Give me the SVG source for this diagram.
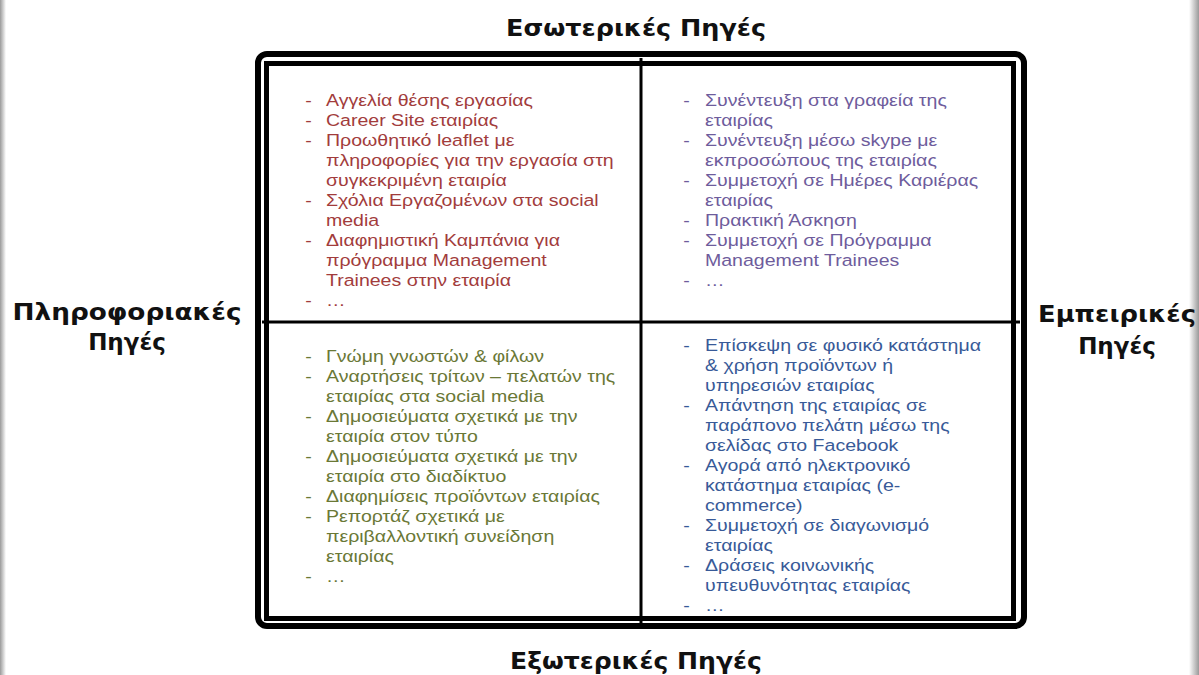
<svg xmlns="http://www.w3.org/2000/svg" width="1199" height="675" viewBox="0 0 1199 675">
  <style>
    .axis { font-family: "DejaVu Sans", "Open Sans", sans-serif; font-weight: 700; font-size: 23px; fill: #111; text-anchor: middle; }
    .item { font-family: "Liberation Sans", Arial, sans-serif; font-size: 17px; }
    .q1 { fill: #a23c3c; }
    .q2 { fill: #6e5c9c; }
    .q3 { fill: #6a7836; }
    .q4 { fill: #385a98; }
    .frame { fill: none; stroke: #000; }
  </style>
  <defs>
    <linearGradient id="edgeL" x1="0" x2="1" y1="0" y2="0">
      <stop offset="0" stop-color="#9a9a9a"/>
      <stop offset="1" stop-color="#ffffff"/>
    </linearGradient>
    <linearGradient id="edgeR" x1="0" x2="1" y1="0" y2="0">
      <stop offset="0" stop-color="#ffffff"/>
      <stop offset="1" stop-color="#9a9a9a"/>
    </linearGradient>
  </defs>

  <rect x="0" y="0" width="1199" height="675" fill="#fff"/>
  <rect x="0" y="0" width="6" height="675" fill="url(#edgeL)"/>
  <rect x="1189" y="0" width="10" height="675" fill="url(#edgeR)"/>

  <!-- frame and quadrant dividers -->
  <g id="connectors">
    <rect class="frame" x="258" y="54" width="766" height="572" rx="9" stroke-width="6"/>
    <rect class="frame" x="266.5" y="63.5" width="747" height="555" stroke-width="5"/>
    <line x1="641" y1="58" x2="641" y2="624" stroke="#000" stroke-width="3"/>
    <line x1="262" y1="322" x2="1020" y2="322" stroke="#000" stroke-width="3"/>
  </g>

  <!-- axis labels -->
  <g id="axis-top"><text class="axis" x="636" y="36" textLength="260" lengthAdjust="spacingAndGlyphs">Εσωτερικές Πηγές</text></g>
  <g id="axis-bottom"><text class="axis" x="636" y="669" textLength="252" lengthAdjust="spacingAndGlyphs">Εξωτερικές Πηγές</text></g>
  <g id="axis-left">
    <text class="axis" x="127" y="320" textLength="229" lengthAdjust="spacingAndGlyphs">Πληροφοριακές</text>
    <text class="axis" x="127" y="350">Πηγές</text>
  </g>
  <g id="axis-right">
    <text class="axis" x="1117" y="322" textLength="158" lengthAdjust="spacingAndGlyphs">Εμπειρικές</text>
    <text class="axis" x="1117" y="354">Πηγές</text>
  </g>

  <!-- top-left quadrant -->
  <g id="q-info-internal" class="item q1" transform="matrix(1.15 0 0 1 -48.9 0)">
    <text x="308" y="106">-</text><text x="326" y="106">Αγγελία θέσης εργασίας</text>
    <text x="308" y="126">-</text><text x="326" y="126">Career Site εταιρίας</text>
    <text x="308" y="146">-</text><text x="326" y="146">Προωθητικό leaflet με</text>
    <text x="326" y="166">πληροφορίες για την εργασία στη</text>
    <text x="326" y="186">συγκεκριμένη εταιρία</text>
    <text x="308" y="206">-</text><text x="326" y="206">Σχόλια Εργαζομένων στα social</text>
    <text x="326" y="226">media</text>
    <text x="308" y="246">-</text><text x="326" y="246">Διαφημιστική Καμπάνια για</text>
    <text x="326" y="266">πρόγραμμα Management</text>
    <text x="326" y="286">Trainees στην εταιρία</text>
    <text x="308" y="306">-</text><text x="326" y="306">…</text>
  </g>

  <!-- top-right quadrant -->
  <g id="q-exp-internal" class="item q2" transform="matrix(1.15 0 0 1 -105.75 0)">
    <text x="686" y="106">-</text><text x="705" y="106">Συνέντευξη στα γραφεία της</text>
    <text x="705" y="126">εταιρίας</text>
    <text x="686" y="146">-</text><text x="705" y="146">Συνέντευξη μέσω skype με</text>
    <text x="705" y="166">εκπροσώπους της εταιρίας</text>
    <text x="686" y="186">-</text><text x="705" y="186">Συμμετοχή σε Ημέρες Καριέρας</text>
    <text x="705" y="206">εταιρίας</text>
    <text x="686" y="226">-</text><text x="705" y="226">Πρακτική Άσκηση</text>
    <text x="686" y="246">-</text><text x="705" y="246">Συμμετοχή σε Πρόγραμμα</text>
    <text x="705" y="266">Management Trainees</text>
    <text x="686" y="286">-</text><text x="705" y="286">…</text>
  </g>

  <!-- bottom-left quadrant -->
  <g id="q-info-external" class="item q3" transform="matrix(1.15 0 0 1 -48.9 0)">
    <text x="308" y="362">-</text><text x="326" y="362">Γνώμη γνωστών &amp; φίλων</text>
    <text x="308" y="382">-</text><text x="326" y="382">Αναρτήσεις τρίτων – πελατών της</text>
    <text x="326" y="402">εταιρίας στα social media</text>
    <text x="308" y="422">-</text><text x="326" y="422">Δημοσιεύματα σχετικά με την</text>
    <text x="326" y="442">εταιρία στον τύπο</text>
    <text x="308" y="462">-</text><text x="326" y="462">Δημοσιεύματα σχετικά με την</text>
    <text x="326" y="482">εταιρία στο διαδίκτυο</text>
    <text x="308" y="502">-</text><text x="326" y="502">Διαφημίσεις προϊόντων εταιρίας</text>
    <text x="308" y="522">-</text><text x="326" y="522">Ρεπορτάζ σχετικά με</text>
    <text x="326" y="542">περιβαλλοντική συνείδηση</text>
    <text x="326" y="562">εταιρίας</text>
    <text x="308" y="582">-</text><text x="326" y="582">…</text>
  </g>

  <!-- bottom-right quadrant -->
  <g id="q-exp-external" class="item q4" transform="matrix(1.15 0 0 1 -105.75 0)">
    <text x="686" y="351">-</text><text x="705" y="351">Επίσκεψη σε φυσικό κατάστημα</text>
    <text x="705" y="371">&amp; χρήση προϊόντων ή</text>
    <text x="705" y="391">υπηρεσιών εταιρίας</text>
    <text x="686" y="411">-</text><text x="705" y="411">Απάντηση της εταιρίας σε</text>
    <text x="705" y="431">παράπονο πελάτη μέσω της</text>
    <text x="705" y="451">σελίδας στο Facebook</text>
    <text x="686" y="471">-</text><text x="705" y="471">Αγορά από ηλεκτρονικό</text>
    <text x="705" y="491">κατάστημα εταιρίας (e-</text>
    <text x="705" y="511">commerce)</text>
    <text x="686" y="531">-</text><text x="705" y="531">Συμμετοχή σε διαγωνισμό</text>
    <text x="705" y="551">εταιρίας</text>
    <text x="686" y="571">-</text><text x="705" y="571">Δράσεις κοινωνικής</text>
    <text x="705" y="591">υπευθυνότητας εταιρίας</text>
    <text x="686" y="611">-</text><text x="705" y="611">…</text>
  </g>
</svg>
